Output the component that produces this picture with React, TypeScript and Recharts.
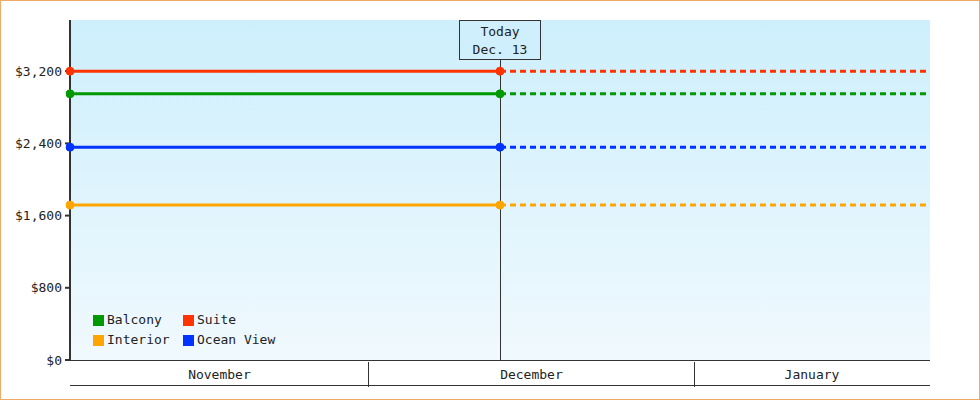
import {
  CartesianGrid,
  Line,
  LineChart,
  ReferenceLine,
  XAxis,
  YAxis,
} from 'recharts'

// days counted from Nov 1 (0 = Nov 1, 30 = Dec 1, 61 = Jan 1)
const windowStart = 1.5
const windowEnd = 83.5
const today = 42.5
const todayLabel = ['Today', 'Dec. 13']

const months = ['November', 'December', 'January']
const monthStarts = [0, 30, 61, 92]

const series = [
  { key: 'suite', name: 'Suite', color: '#ff3300', price: 3200 },
  { key: 'balcony', name: 'Balcony', color: '#009900', price: 2949 },
  { key: 'ocean', name: 'Ocean View', color: '#0033ff', price: 2358 },
  { key: 'interior', name: 'Interior', color: '#ffa500', price: 1716 },
]
const legendOrder = ['balcony', 'suite', 'interior', 'ocean']

const yTicks = [0, 800, 1600, 2400, 3200]
const yMax = 3767

const FONT = '"DejaVu Sans Mono", monospace'
const INK = '#333333'

// solid line up to today, dashed after
const rows = [windowStart, today, windowEnd].map(day => {
  const row: Record<string, number | null> = { day }
  series.forEach(s => {
    row[s.key] = day <= today ? s.price : null
    row[s.key + 'Next'] = day >= today ? s.price : null
  })
  return row
})

// month band ticks: boundaries draw a divider, centres draw the name
const bandTicks: number[] = []
const bandLabels: Record<number, string> = {}
months.forEach((m, i) => {
  const a = Math.max(monthStarts[i], windowStart)
  const b = Math.min(monthStarts[i + 1], windowEnd)
  if (i > 0) bandTicks.push(monthStarts[i])
  const c = (a + b) / 2
  bandTicks.push(c)
  bandLabels[c] = m
})

function BandTick(props: any) {
  const { x, y, payload } = props
  const label = bandLabels[payload.value]
  if (!label) {
    return (
      <line x1={x} x2={x} y1={y} y2={y + 25} stroke={INK} strokeWidth={1} shapeRendering="crispEdges" />
    )
  }
  return (
    <text x={x} y={y + 17} textAnchor="middle" fontFamily={FONT} fontSize={13} fill="#222">
      {label}
    </text>
  )
}

function TodayLabel(props: any) {
  const { viewBox } = props
  const cx = viewBox.x
  const top = viewBox.y
  return (
    <g>
      <rect x={cx - 40.5} y={top + 0.5} width={81} height={39} fill="#cfeffc" stroke={INK} strokeWidth={1} />
      <text x={cx} y={top + 16} textAnchor="middle" fontFamily={FONT} fontSize={13} fill="#222">
        {todayLabel[0]}
      </text>
      <text x={cx} y={top + 34} textAnchor="middle" fontFamily={FONT} fontSize={13} fill="#222">
        {todayLabel[1]}
      </text>
    </g>
  )
}

function LegendBox() {
  return (
    <div
      style={{
        position: 'absolute',
        left: 93,
        top: 312,
        display: 'grid',
        gridTemplateColumns: '90px auto',
        rowGap: 4,
        fontFamily: FONT,
        fontSize: 13,
        color: '#222',
        lineHeight: '16px',
      }}
    >
      {legendOrder.map(k => {
        const s = series.find(v => v.key === k)!
        return (
          <div key={k} style={{ display: 'flex', alignItems: 'center' }}>
            <span style={{ width: 11, height: 11, background: s.color, marginRight: 3, display: 'inline-block' }} />
            {s.name}
          </div>
        )
      })}
    </div>
  )
}

export default function App() {
  return (
    <div
      style={{
        position: 'absolute',
        left: 0,
        top: 0,
        width: 980,
        height: 400,
        background: '#fff',
        boxShadow: 'inset 0 0 0 1px #eeaa66',
      }}
    >
      <LineChart width={980} height={400} data={rows} margin={{ top: 20, right: 50, left: 0, bottom: 14 }}>
        <defs>
          <linearGradient id="plotBg" x1="0" y1="0" x2="0" y2="1">
            <stop offset="0%" stopColor="#cdeffc" />
            <stop offset="100%" stopColor="#f0f9fe" />
          </linearGradient>
        </defs>
        <CartesianGrid horizontal={false} vertical={false} fill="url(#plotBg)" stroke="none" />
        <XAxis
          dataKey="day"
          type="number"
          domain={[windowStart, windowEnd]}
          allowDataOverflow
          ticks={bandTicks}
          interval={0}
          tick={<BandTick />}
          tickLine={false}
          tickSize={0}
          height={25}
          axisLine={{ stroke: INK, strokeWidth: 1, shapeRendering: 'crispEdges' }}
        />
        <XAxis
          xAxisId="base"
          dataKey="day"
          type="number"
          domain={[windowStart, windowEnd]}
          allowDataOverflow
          tick={false}
          tickLine={false}
          height={1}
          axisLine={{ stroke: INK, strokeWidth: 1, shapeRendering: 'crispEdges' }}
        />
        <YAxis
          type="number"
          domain={[0, yMax]}
          allowDataOverflow
          ticks={yTicks}
          interval={0}
          width={70}
          tickSize={5}
          tickMargin={3}
          tickFormatter={(v: number) => '$' + v.toLocaleString('en-US')}
          tick={{ fontFamily: FONT, fontSize: 13, fill: '#222' }}
          tickLine={{ stroke: INK, strokeWidth: 2 }}
          axisLine={{ stroke: INK, strokeWidth: 2 }}
        />
        <ReferenceLine
          x={today}
          stroke={INK}
          strokeWidth={1}
          shapeRendering="crispEdges"
          label={<TodayLabel />}
        />
        {series.map(s => (
          <Line
            key={s.key + 'Next'}
            dataKey={s.key + 'Next'}
            stroke={s.color}
            strokeWidth={3}
            strokeDasharray="6 4"
            dot={false}
            activeDot={false}
            isAnimationActive={false}
            legendType="none"
          />
        ))}
        {series.map(s => (
          <Line
            key={s.key}
            dataKey={s.key}
            name={s.name}
            stroke={s.color}
            strokeWidth={3}
            dot={{ r: 4, fill: s.color, stroke: s.color, strokeWidth: 1, clipDot: false }}
            activeDot={false}
            isAnimationActive={false}
          />
        ))}
      </LineChart>
      <LegendBox />
    </div>
  )
}
